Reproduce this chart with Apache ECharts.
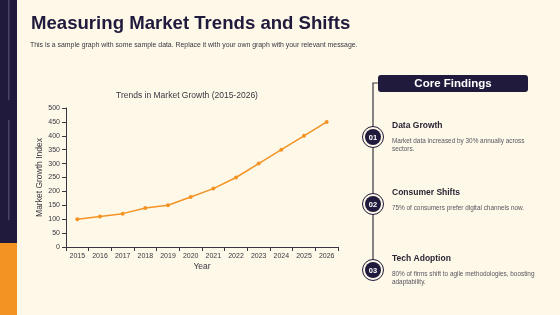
<!DOCTYPE html>
<html>
<head>
<meta charset="utf-8">
<script src="https://cdn.jsdelivr.net/npm/echarts@6/dist/echarts.min.js"></script>
<style>
  html, body { margin: 0; padding: 0; background: #fef8e8; }
  #main { width: 560px; height: 315px; }
</style>
</head>
<body>
<div id="main"></div>
<script>
var years = ["2015", "2016", "2017", "2018", "2019", "2020", "2021", "2022", "2023", "2024", "2025", "2026"];
var growthIndex = [100, 110, 120, 140, 150, 180, 210, 250, 300, 350, 400, 450];
var findingTitles = ["Data Growth", "Consumer Shifts", "Tech Adoption"];
var findingTexts = [
  "Market data increased by 30% annually across\nsectors.",
  "75% of consumers prefer digital channels now.",
  "80% of firms shift to agile methodologies, boosting\nadaptability."
];
var findingY = [137, 204, 270];

var navy = "#201a3c";
var orange = "#f39324";
var font = "Liberation Sans, Arial, sans-serif";

var chartDom = document.getElementById("main");
var myChart = echarts.init(chartDom);

// sidebar + right side timeline
var panel = [
  { type: "rect", shape: { x: 0, y: 0, width: 17, height: 243 }, style: { fill: navy } },
  { type: "rect", shape: { x: 0, y: 243, width: 17, height: 72 }, style: { fill: orange } },
  { type: "rect", shape: { x: 8, y: 0, width: 1.5, height: 100 }, style: { fill: "#4a4466" } },
  { type: "rect", shape: { x: 8, y: 120, width: 1.5, height: 100 }, style: { fill: "#4a4466" } },
  { type: "polyline", shape: { points: [[378, 83], [373, 83], [373, findingY[2]]] }, style: { stroke: "#3a3540", lineWidth: 1.2, fill: null } },
  { type: "rect", shape: { x: 378, y: 75, width: 150, height: 17, r: 3 }, style: { fill: navy } },
  { type: "text", x: 453, y: 83.5, style: { text: "Core Findings", fill: "#fff", font: "bold 11.5px " + font, align: "center", verticalAlign: "middle" } }
];
findingTitles.forEach(function (t, i) {
  var y = findingY[i];
  panel.push(
    { type: "circle", shape: { cx: 373, cy: y, r: 10.5 }, style: { fill: "#fef8e8", stroke: navy, lineWidth: 1 } },
    { type: "circle", shape: { cx: 373, cy: y, r: 8 }, style: { fill: navy } },
    { type: "text", x: 373, y: y + 0.5, style: { text: "0" + (i + 1), fill: "#fff", font: "bold 7.5px " + font, align: "center", verticalAlign: "middle" } },
    { type: "text", x: 392, y: y - 11, style: { text: t, fill: "#2a2535", font: "bold 8.5px " + font, verticalAlign: "middle" } },
    { type: "text", x: 392, y: y + 0, style: { text: findingTexts[i], fill: "#5a5560", font: "6.4px " + font, lineHeight: 8 } }
  );
});

var option = {
  backgroundColor: "#fef8e8",
  title: [
    { text: "Measuring Market Trends and Shifts", left: 31, top: 14, padding: 0,
      textStyle: { color: navy, fontSize: 18.6, fontWeight: "bold", fontFamily: font } },
    { text: "This is a sample graph with some sample data. Replace it with your own graph with your relevant message.", left: 30, top: 41.5, padding: 0,
      textStyle: { color: "#3a3540", fontSize: 6.9, fontWeight: "normal", fontFamily: font } },
    { text: "Trends in Market Growth (2015-2026)", left: 187, top: 91.5, textAlign: "center", padding: 0,
      textStyle: { color: "#3a3540", fontSize: 8.5, fontWeight: "normal", fontFamily: font } }
  ],
  grid: { left: 66, right: 222, top: 108, bottom: 68 },
  xAxis: {
    type: "category",
    data: years,
    name: "Year",
    nameLocation: "middle",
    nameGap: 15,
    nameTextStyle: { color: "#3a3540", fontSize: 8.5, fontFamily: font },
    axisLine: { lineStyle: { color: "#3a3540", width: 1 } },
    axisTick: { show: true, length: 4, lineStyle: { color: "#3a3540" } },
    axisLabel: { color: "#3a3540", fontSize: 7, fontFamily: font, margin: 6, interval: 0 }
  },
  yAxis: {
    type: "value",
    min: 0,
    max: 500,
    interval: 50,
    name: "Market Growth Index",
    nameLocation: "middle",
    nameGap: 20,
    nameTextStyle: { color: "#3a3540", fontSize: 8.5, fontFamily: font },
    axisLine: { show: true, lineStyle: { color: "#3a3540", width: 1 } },
    axisTick: { show: true, length: 4, lineStyle: { color: "#3a3540" } },
    axisLabel: { color: "#3a3540", fontSize: 7, fontFamily: font, margin: 6 },
    splitLine: { show: false }
  },
  series: [{
    type: "line",
    data: growthIndex,
    symbol: "circle",
    symbolSize: 4,
    itemStyle: { color: orange },
    lineStyle: { color: orange, width: 1.5 },
    animation: false
  }],
  graphic: panel
};

myChart.setOption(option);
window.addEventListener("resize", function () {
  myChart.resize();
});
</script>
</body>
</html>
